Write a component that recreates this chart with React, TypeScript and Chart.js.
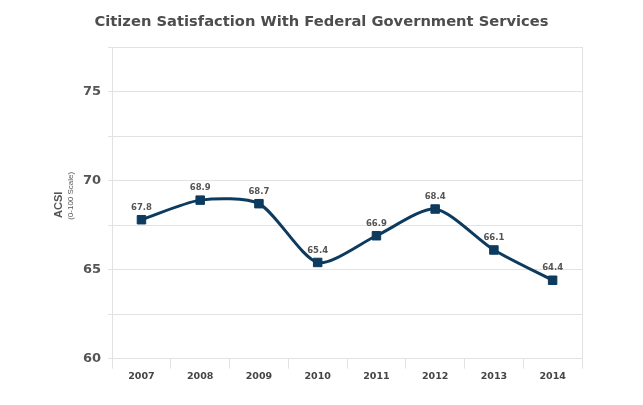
import React, { useEffect, useRef } from "react";
import { Chart, registerables } from "chart.js";

Chart.register(...registerables);

const chartTitle = "Citizen Satisfaction With Federal Government Services";
const yTitle = "ACSI";
const ySubTitle = "(0-100 Scale)";
const years = ["2007", "2008", "2009", "2010", "2011", "2012", "2013", "2014"];
const acsiScores = [67.8, 68.9, 68.7, 65.4, 66.9, 68.4, 66.1, 64.4];
const yMin = 60;
const yMax = 77.5;
const yStep = 2.5;

const GRID = "#e2e2e2";
const LINE = "#0d3b5f";
const TEXT = "#555555";

const textPlugin = {
  id: "customText",
  afterDraw(chart: any) {
    const ctx = chart.ctx;
    ctx.save();
    ctx.fillStyle = "#4d4d4d";
    ctx.font = "bold 14.7px 'DejaVu Sans'";
    ctx.textAlign = "center";
    ctx.textBaseline = "alphabetic";
    ctx.fillText(chartTitle, chart.width / 2, 26);

    const area = chart.chartArea;
    const cy = (area.top + area.bottom) / 2;
    ctx.translate(59, cy + 2);
    ctx.rotate(-Math.PI / 2);
    ctx.fillStyle = TEXT;
    ctx.textBaseline = "middle";
    ctx.font = "bold 11px 'Liberation Sans'";
    ctx.fillText(yTitle, 0, 0);
    ctx.font = "8px 'Liberation Sans'";
    ctx.fillText(ySubTitle, 9, 11.5);
    ctx.restore();
  },
  afterDatasetsDraw(chart: any) {
    const ctx = chart.ctx;
    const meta = chart.getDatasetMeta(0);
    const data = chart.data.datasets[0].data;
    ctx.save();
    ctx.fillStyle = TEXT;
    ctx.font = "bold 8.5px 'DejaVu Sans'";
    ctx.textAlign = "center";
    ctx.textBaseline = "middle";
    meta.data.forEach((pt: any, i: number) => {
      ctx.fillText(Number(data[i]).toFixed(1), pt.x, pt.y - 12);
    });
    ctx.restore();
  },
};

export default function App() {
  const ref = useRef<HTMLCanvasElement>(null);
  useEffect(() => {
    if (!ref.current) return;
    const chart = new Chart(ref.current, {
      type: "line",
      data: {
        labels: years,
        datasets: [
          {
            data: acsiScores,
            borderColor: LINE,
            backgroundColor: LINE,
            borderWidth: 3,
            tension: 0.25,
            pointStyle: "rect",
            pointRadius: 6,
            pointBorderWidth: 1,
            pointBackgroundColor: LINE,
            pointBorderColor: LINE,
          },
        ],
      },
      options: {
        responsive: false,
        animation: false,
        layout: { padding: { left: 76, right: 61, top: 47, bottom: 21 } },
        plugins: {
          legend: { display: false },
          tooltip: { enabled: false },
          title: { display: false },
        },
        scales: {
          x: {
            type: "category",
            offset: true,
            grid: {
              offset: true,
              color: (c: any) => (c.type === "scale" || c.index === 0 ? GRID : "rgba(0,0,0,0)"),
              tickColor: GRID,
              tickLength: 10,
              lineWidth: 1,
            },
            border: { display: true, color: GRID },
            ticks: {
              color: "#444444",
              font: { family: "'DejaVu Sans'", size: 9.5, weight: "bold" },
              padding: 2,
              maxRotation: 0,
            },
          },
          y: {
            min: yMin,
            max: yMax,
            grid: { color: GRID, tickLength: 4, tickColor: GRID },
            border: { display: true, color: GRID },
            ticks: {
              stepSize: yStep,
              color: TEXT,
              padding: 7,
              font: { family: "'DejaVu Sans'", size: 13, weight: "bold" },
              callback: (v: any) => (Number(v) % 5 === 0 && Number(v) < 77 ? String(v) : ""),
            },
          },
        },
      },
      plugins: [textPlugin],
    });
    return () => chart.destroy();
  }, []);
  return (
    <div style={{ position: "absolute", left: 0, top: 0, width: 643, height: 405, background: "#fff" }}>
      <canvas ref={ref} width={643} height={405} />
    </div>
  );
}
